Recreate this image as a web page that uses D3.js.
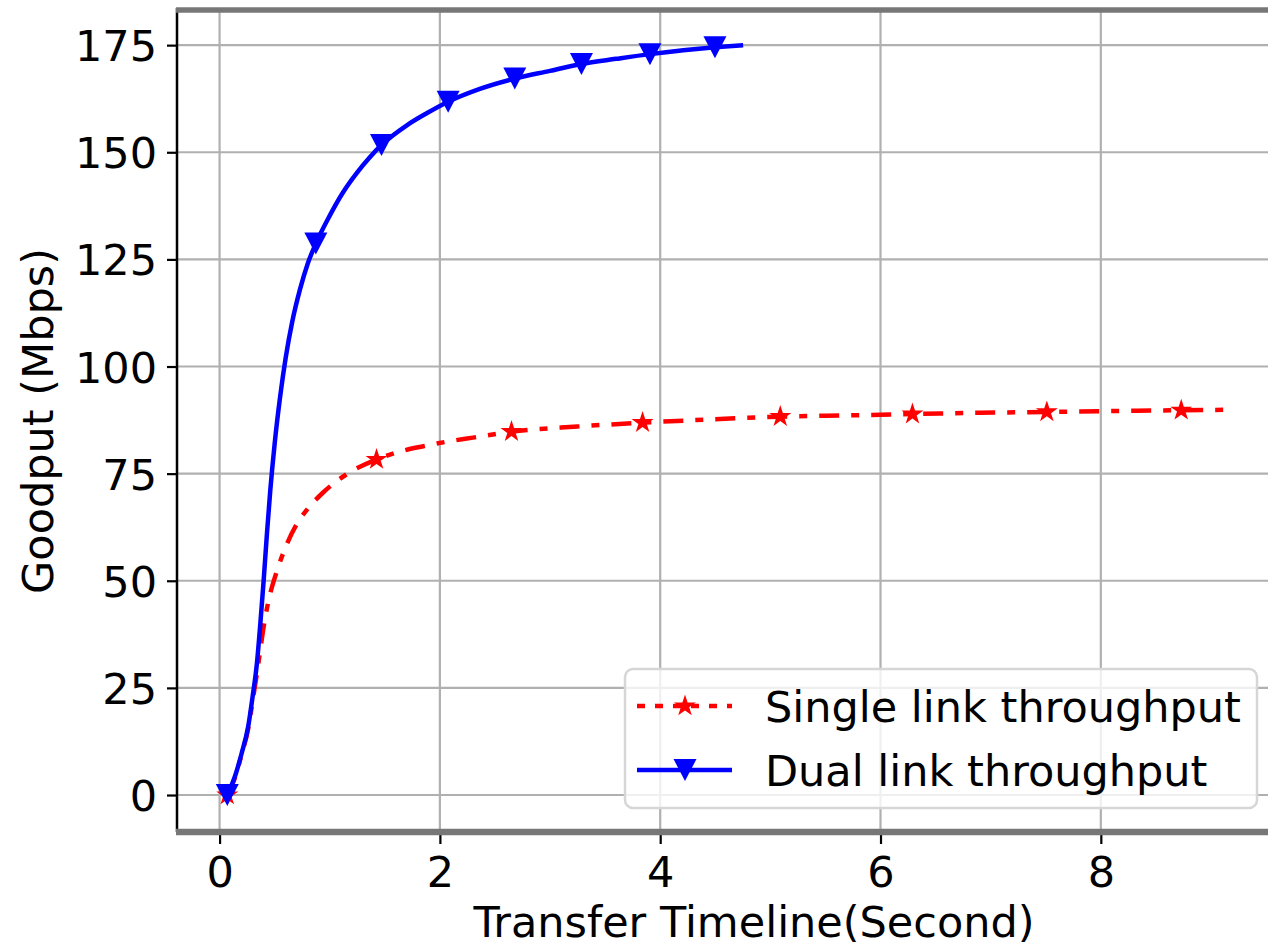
<!DOCTYPE html>
<html>
<head>
<meta charset="utf-8">
<script src="https://cdn.jsdelivr.net/npm/d3@7"></script>
<style>
  html, body { margin: 0; padding: 0; background: #fff; overflow: hidden; }
  svg { display: block; font-family: "DejaVu Sans", sans-serif; }
</style>
</head>
<body>
<svg id="chart" width="1268" height="947"></svg>
<script>
// ---- data ----
const singleTime = [0.07, 0.14, 0.20, 0.26, 0.30, 0.34, 0.37, 0.41, 0.457, 0.517, 0.61, 0.70, 0.80, 0.94, 1.15, 1.425, 1.60, 1.85, 2.05, 2.30, 2.65, 3.25, 3.84, 4.50, 5.09, 5.70, 6.29, 6.90, 7.51, 8.12, 8.73, 9.15];
const singleGoodput = [0.0, 4.0, 9.5, 15.5, 22.0, 28.5, 34.0, 40.8, 46.7, 52.0, 58.5, 63.2, 66.8, 70.6, 74.8, 78.3, 79.9, 81.4, 82.4, 83.4, 84.8, 86.0, 86.9, 87.7, 88.3, 88.6, 88.9, 89.2, 89.4, 89.6, 89.8, 89.9];
const singleMarkerIdx = [0, 15, 20, 22, 24, 26, 28, 30];

const dualTime = [0.07, 0.139, 0.20, 0.26, 0.30, 0.34, 0.37, 0.40, 0.43, 0.46, 0.50, 0.55, 0.60, 0.66, 0.73, 0.80, 0.874, 1.00, 1.12, 1.25, 1.36, 1.47, 1.70, 1.88, 2.075, 2.363, 2.68, 3.00, 3.285, 3.60, 3.907, 4.21, 4.497, 4.753];
const dualGoodput = [0.0, 4.3, 9.7, 16.0, 23.0, 31.0, 40.0, 50.0, 61.0, 71.0, 82.0, 93.0, 102.0, 110.5, 118.0, 124.0, 128.7, 135.2, 140.6, 145.3, 148.7, 151.7, 156.3, 159.1, 161.8, 164.8, 167.2, 169.0, 170.6, 171.8, 172.9, 173.8, 174.5, 175.0];
const dualMarkerIdx = [0, 16, 21, 24, 26, 28, 30, 32];

const xTicks = [0, 2, 4, 6, 8];
const yTicks = [0, 25, 50, 75, 100, 125, 150, 175];
const legendLabels = ["Single link throughput", "Dual link throughput"];
const xLabel = "Transfer Timeline(Second)";
const yLabel = "Goodput (Mbps)";

// ---- layout ----
const W = 1268, H = 947;
const plot = { left: 177, right: 1285, top: 10, bottom: 832 };
const FS = 43;

const svg = d3.select("#chart");

const x = d3.scaleLinear().domain([-0.3865, 9.672]).range([plot.left, plot.right]);
const y = d3.scaleLinear().domain([-8.63, 183.2]).range([plot.bottom, plot.top]);

// grid
const grid = svg.append("g");
grid.selectAll("line.v").data(xTicks).join("line")
  .attr("x1", d => x(d)).attr("x2", d => x(d))
  .attr("y1", plot.top).attr("y2", plot.bottom)
  .attr("stroke", "#b0b0b0").attr("stroke-width", 2.2);
grid.selectAll("line.h").data(yTicks).join("line")
  .attr("x1", plot.left).attr("x2", plot.right)
  .attr("y1", d => y(d)).attr("y2", d => y(d))
  .attr("stroke", "#b0b0b0").attr("stroke-width", 2.2);

// axes via d3
const xAxis = d3.axisBottom(x).tickValues(xTicks).tickSize(12).tickPadding(12).tickFormat(d3.format("d"));
const yAxis = d3.axisLeft(y).tickValues(yTicks).tickSize(10).tickPadding(10).tickFormat(d3.format("d"));

const gx = svg.append("g").attr("transform", `translate(0,${plot.bottom})`).call(xAxis);
const gy = svg.append("g").attr("transform", `translate(${plot.left},0)`).call(yAxis);
[gx, gy].forEach(g => {
  g.select(".domain").remove();
  g.selectAll(".tick line").attr("stroke", "#000").attr("stroke-width", 2.2);
  g.selectAll(".tick text").attr("fill", "#000").attr("font-size", FS).attr("font-family", "DejaVu Sans");
});
gx.selectAll(".tick text").attr("dy", "0.71em");
gy.selectAll(".tick text").attr("dy", "0.36em");

// series
const line = d3.line().x(d => x(d[0])).y(d => y(d[1])).curve(d3.curveMonotoneX);
const single = singleTime.map((t, i) => [t, singleGoodput[i]]);
const dual = dualTime.map((t, i) => [t, dualGoodput[i]]);

const series = svg.append("g");
series.append("path").datum(single).attr("d", line)
  .attr("fill", "none").attr("stroke", "#ff0000").attr("stroke-width", 4.5)
  .attr("stroke-dasharray", "20,12,8,12");
const star = d3.symbol().type(d3.symbolStar).size(150);
series.selectAll("path.star").data(singleMarkerIdx.map(i => single[i])).join("path")
  .attr("class", "star")
  .attr("transform", d => `translate(${x(d[0])},${y(d[1])})`)
  .attr("d", star).attr("fill", "#ff0000");

series.append("path").datum(dual).attr("d", line)
  .attr("fill", "none").attr("stroke", "#0000ff").attr("stroke-width", 4.5);
const tri = "M0,11L-11.5,-11L11.5,-11Z";
series.selectAll("path.tri").data(dualMarkerIdx.map(i => dual[i])).join("path")
  .attr("class", "tri")
  .attr("transform", d => `translate(${x(d[0])},${y(d[1])})`)
  .attr("d", tri).attr("fill", "#0000ff");

// spines
svg.append("line").attr("x1", plot.left).attr("x2", plot.left).attr("y1", plot.top - 2).attr("y2", plot.bottom)
  .attr("stroke", "#000").attr("stroke-width", 2.5);
svg.append("line").attr("x1", plot.left - 1).attr("x2", W).attr("y1", plot.top).attr("y2", plot.top)
  .attr("stroke", "#777").attr("stroke-width", 5.5);
svg.append("line").attr("x1", plot.left - 1).attr("x2", W).attr("y1", plot.bottom).attr("y2", plot.bottom)
  .attr("stroke", "#777").attr("stroke-width", 6.5);

// axis labels
svg.append("text").attr("x", 754).attr("y", 937).attr("text-anchor", "middle")
  .attr("font-size", FS).attr("fill", "#000").text(xLabel);
svg.append("text").attr("transform", `translate(53,${(plot.top + plot.bottom) / 2}) rotate(-90)`)
  .attr("text-anchor", "middle").attr("font-size", FS).attr("fill", "#000").text(yLabel);

// legend
const lg = svg.append("g");
lg.append("rect").attr("x", 625).attr("y", 669).attr("width", 632).attr("height", 139).attr("rx", 8)
  .attr("fill", "#fff").attr("fill-opacity", 0.8).attr("stroke", "#d6d6d6").attr("stroke-width", 2.5);
const rows = [
  { y: 706, color: "#ff0000", dash: "8,10", marker: star, label: legendLabels[0] },
  { y: 770, color: "#0000ff", dash: null, marker: tri, label: legendLabels[1] }
];
rows.forEach((r, i) => {
  lg.append("line").attr("x1", 637).attr("x2", 732).attr("y1", r.y).attr("y2", r.y)
    .attr("stroke", r.color).attr("stroke-width", 4.5).attr("stroke-dasharray", r.dash);
  lg.append("path").attr("transform", `translate(685,${r.y})`)
    .attr("d", typeof r.marker === "string" ? r.marker : r.marker()).attr("fill", r.color);
  lg.append("text").attr("x", 765).attr("y", r.y + 16).attr("font-size", FS).attr("fill", "#000").text(r.label);
});
</script>
</body>
</html>
